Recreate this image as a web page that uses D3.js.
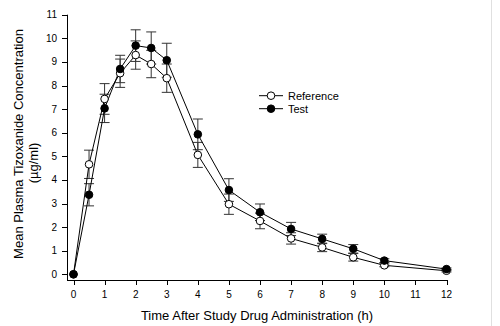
<!DOCTYPE html>
<html>
<head>
<meta charset="utf-8">
<script src="https://cdn.jsdelivr.net/npm/d3@7"></script>
<style>
    body { margin: 0; background: white; }
    svg { display: block; font-family: "Liberation Sans", Arial, sans-serif; }
</style>
</head>
<body>
<svg id="chart" width="500" height="326"></svg>
<script>
    // Data
    const TIMES = [0, 0.5, 1, 1.5, 2, 2.5, 3, 4, 5, 6, 7, 8, 9, 10, 12];
    const REF_MEAN = [0, 4.66, 7.43, 8.52, 9.29, 8.91, 8.31, 5.06, 2.97, 2.26, 1.52, 1.14, 0.72, 0.38, 0.15];
    const REF_ERR = [0, 0.6, 0.65, 0.6, 0.6, 0.58, 0.6, 0.53, 0.43, 0.33, 0.24, 0.18, 0.16, 0.06, 0.05];
    const TEST_MEAN = [0, 3.37, 7.03, 8.7, 9.69, 9.59, 9.07, 5.93, 3.57, 2.63, 1.92, 1.5, 1.08, 0.58, 0.22];
    const TEST_ERR = [0, 0.47, 0.6, 0.58, 0.67, 0.68, 0.72, 0.65, 0.48, 0.35, 0.28, 0.2, 0.18, 0.08, 0.05];
    const X_TICKS = d3.range(0, 13);
    const Y_TICKS = d3.range(0, 12);

    const series = [
        { name: 'Reference', fill: 'white', values: TIMES.map((t, i) => ({ t, v: REF_MEAN[i], e: REF_ERR[i] })) },
        { name: 'Test', fill: 'black', values: TIMES.map((t, i) => ({ t, v: TEST_MEAN[i], e: TEST_ERR[i] })) }
    ];

    const svg = d3.select('#chart');

    // Scales
    const x = d3.scaleLinear().domain([0, 12]).range([73.5, 446.5]);
    const y = d3.scaleLinear().domain([0, 11]).range([274.3, 14.7]);
    const AXIS_X = 67, AXIS_Y = 280;

    // right edge line
    svg.append('line')
        .attr('x1', 491.5).attr('x2', 491.5).attr('y1', 0).attr('y2', 326)
        .attr('stroke', '#e0e0e0').attr('stroke-width', 1);

    // Y axis
    const yAxis = svg.append('g');
    yAxis.append('line')
        .attr('x1', AXIS_X + 0.5).attr('x2', AXIS_X + 0.5)
        .attr('y1', y(11)).attr('y2', AXIS_Y + 0.5)
        .attr('stroke', 'black');
    yAxis.selectAll('.tick').data(Y_TICKS).enter().append('g')
        .attr('class', 'tick')
        .each(function (d) {
            const g = d3.select(this);
            g.append('line')
                .attr('x1', AXIS_X - 5).attr('x2', AXIS_X + 0.5)
                .attr('y1', Math.round(y(d)) + 0.5).attr('y2', Math.round(y(d)) + 0.5)
                .attr('stroke', 'black');
            g.append('text')
                .attr('x', 57).attr('y', y(d) + 3.5)
                .attr('text-anchor', 'end')
                .attr('font-size', 10)
                .text(d);
        });

    // X axis
    const xAxis = svg.append('g');
    xAxis.append('line')
        .attr('x1', AXIS_X).attr('x2', x(12) + 0.5)
        .attr('y1', AXIS_Y + 0.5).attr('y2', AXIS_Y + 0.5)
        .attr('stroke', 'black');
    xAxis.selectAll('.tick').data(X_TICKS).enter().append('g')
        .attr('class', 'tick')
        .each(function (d) {
            const g = d3.select(this);
            g.append('line')
                .attr('x1', Math.round(x(d)) + 0.5).attr('x2', Math.round(x(d)) + 0.5)
                .attr('y1', AXIS_Y).attr('y2', AXIS_Y + 5)
                .attr('stroke', 'black');
            g.append('text')
                .attr('x', x(d)).attr('y', 298)
                .attr('text-anchor', 'middle')
                .attr('font-size', 10)
                .text(d);
        });

    // Axis titles
    svg.append('text')
        .attr('x', 257).attr('y', 320)
        .attr('text-anchor', 'middle')
        .attr('font-size', 13)
        .text('Time After Study Drug Administration (h)');
    svg.append('text')
        .attr('transform', 'translate(23,144) rotate(-90)')
        .attr('text-anchor', 'middle')
        .attr('font-size', 13)
        .text('Mean Plasma Tizoxanide Concentration');
    svg.append('text')
        .attr('transform', 'translate(38,163) rotate(-90)')
        .attr('text-anchor', 'middle')
        .attr('font-size', 13)
        .text('(µg/ml)');

    // Error bars
    const CAP = 5;
    series.forEach((s) => {
        const g = svg.append('g').attr('stroke', '#333').attr('stroke-width', 1);
        s.values.filter((d) => d.e > 0).forEach((d) => {
            const cx = x(d.t), y0 = y(d.v - d.e), y1 = y(d.v + d.e);
            g.append('line').attr('x1', cx).attr('x2', cx).attr('y1', y0).attr('y2', y1);
            g.append('line').attr('x1', cx - CAP).attr('x2', cx + CAP).attr('y1', y0).attr('y2', y0);
            g.append('line').attr('x1', cx - CAP).attr('x2', cx + CAP).attr('y1', y1).attr('y2', y1);
        });
    });

    // Lines
    const line = d3.line().x((d) => x(d.t)).y((d) => y(d.v));
    series.forEach((s) => {
        svg.append('path')
            .datum(s.values)
            .attr('d', line)
            .attr('fill', 'none')
            .attr('stroke', 'black')
            .attr('stroke-width', 1);
    });

    // Markers
    series.forEach((s) => {
        svg.append('g').selectAll('circle').data(s.values).enter().append('circle')
            .attr('cx', (d) => x(d.t))
            .attr('cy', (d) => y(d.v))
            .attr('r', 3.8)
            .attr('fill', s.fill)
            .attr('stroke', 'black')
            .attr('stroke-width', 1);
    });

    // Legend
    const legend = svg.append('g');
    series.forEach((s, i) => {
        const ly = 95.7 + i * 13;
        legend.append('line')
            .attr('x1', 259).attr('x2', 283).attr('y1', ly).attr('y2', ly)
            .attr('stroke', 'black');
        legend.append('circle')
            .attr('cx', 271).attr('cy', ly).attr('r', 3.8)
            .attr('fill', s.fill).attr('stroke', 'black');
        legend.append('text')
            .attr('x', 288).attr('y', ly + 4)
            .attr('font-size', 11)
            .text(s.name);
    });
</script>
</body>
</html>
